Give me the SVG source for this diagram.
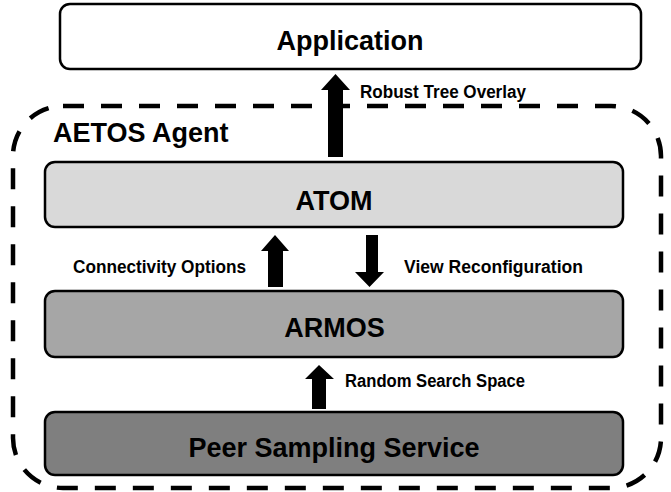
<svg xmlns="http://www.w3.org/2000/svg" width="671" height="492" viewBox="0 0 671 492">
<style>
.box{stroke:#000;stroke-width:2.5}
.big{font-family:"Liberation Sans",Arial,sans-serif;font-weight:bold;font-size:27px;fill:#000}
.lbl{font-family:"Liberation Sans",Arial,sans-serif;font-weight:bold;font-size:17.5px;fill:#000}
.arr{fill:#000}
</style>
<rect width="671" height="492" fill="#fff"/>
<g id="aetos-agent">
<rect x="13" y="106" width="648" height="382" rx="50" ry="50" fill="none" stroke="#000" stroke-width="4.5" stroke-dasharray="21 17"/>
<text class="big" x="53" y="142" font-size="26">AETOS Agent</text>
</g>
<g id="application">
<rect class="box" x="60" y="4" width="581" height="65" rx="10" fill="#fff"/>
<text class="big" x="350" y="50" text-anchor="middle" font-size="28">Application</text>
</g>
<g id="atom">
<rect class="box" x="45" y="162" width="578" height="65" rx="10" fill="#d9d9d9"/>
<text class="big" x="334" y="210" text-anchor="middle">ATOM</text>
</g>
<g id="armos">
<rect class="box" x="45" y="291" width="578" height="66" rx="10" fill="#a6a6a6"/>
<text class="big" x="334.5" y="337" text-anchor="middle">ARMOS</text>
</g>
<g id="peer-sampling">
<rect class="box" x="45" y="412" width="578" height="63" rx="10" fill="#7f7f7f"/>
<text class="big" x="334" y="457" text-anchor="middle">Peer Sampling Service</text>
</g>
<g id="connectors">
<polygon class="arr" points="328,157 328,90 321,90 335.5,74 350,90 343,90 343,157"/>
<text class="lbl" x="360" y="98" textLength="166" lengthAdjust="spacingAndGlyphs">Robust Tree Overlay</text>
<polygon class="arr" points="268,287 268,251 261,251 275,235 289,251 283,251 283,287"/>
<text class="lbl" x="73" y="273" textLength="173" lengthAdjust="spacingAndGlyphs">Connectivity Options</text>
<polygon class="arr" points="366,235 366,272 355,272 369.5,287 384,272 378,272 378,235"/>
<text class="lbl" x="404" y="273" textLength="179" lengthAdjust="spacingAndGlyphs">View Reconfiguration</text>
<polygon class="arr" points="312,409 312,379 305,379 319,365 334,379 326,379 326,409"/>
<text class="lbl" x="345" y="387" textLength="180" lengthAdjust="spacingAndGlyphs">Random Search Space</text>
</g>
</svg>
